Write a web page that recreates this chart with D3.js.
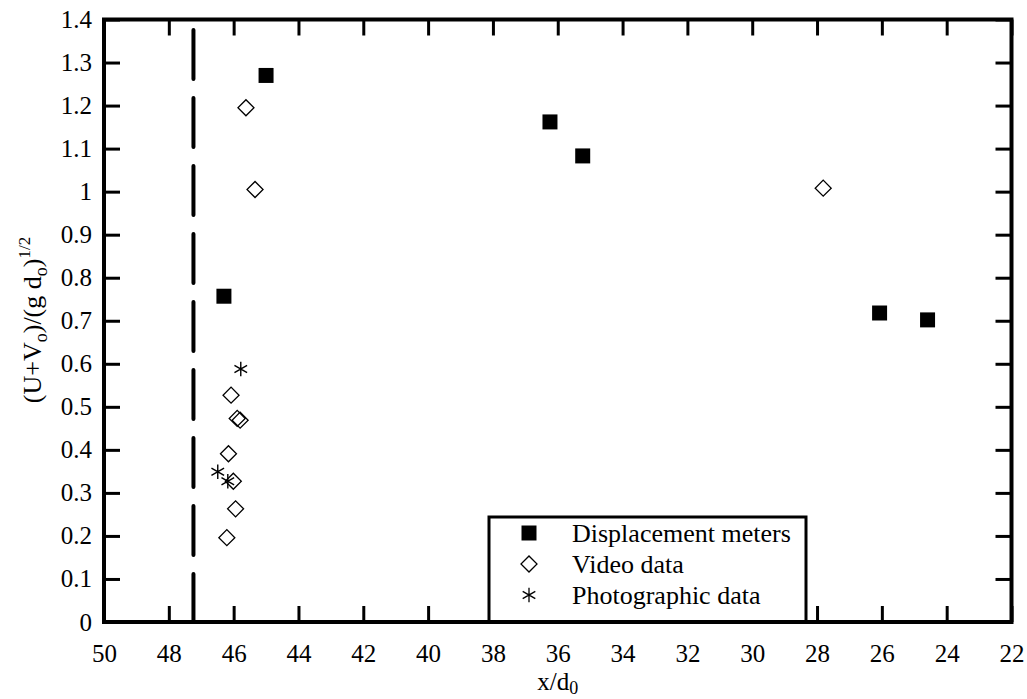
<!DOCTYPE html>
<html lang="en">
<head>
<meta charset="UTF-8">
<script src="https://cdn.jsdelivr.net/npm/d3@7/dist/d3.min.js"></script>
<title>Velocity vs distance</title>
<style>
  body { margin: 0; background: #fff; }
</style>
</head>
<body>
<script>
// data
var displacementX = [45.0, 46.3, 36.24, 35.23, 26.07, 24.59];
var displacementY = [1.27, 0.757, 1.162, 1.083, 0.718, 0.702];

var videoX = [45.62, 45.34, 27.81, 46.08, 45.89, 45.80, 46.16, 46.01, 45.94, 46.21];
var videoY = [1.195, 1.005, 1.008, 0.527, 0.473, 0.469, 0.391, 0.327, 0.263, 0.196];

var photoX = [45.78, 46.49, 46.18];
var photoY = [0.588, 0.349, 0.327];

var cutoffX = 47.24;

var xTicks = [50, 48, 46, 44, 42, 40, 38, 36, 34, 32, 30, 28, 26, 24, 22];
var yTicks = [0, 0.1, 0.2, 0.3, 0.4, 0.5, 0.6, 0.7, 0.8, 0.9, 1, 1.1, 1.2, 1.3, 1.4];
var yTickLabels = ["0", "0.1", "0.2", "0.3", "0.4", "0.5", "0.6", "0.7", "0.8", "0.9", "1", "1.1", "1.2", "1.3", "1.4"];
var legendLabels = ["Displacement meters", "Video data", "Photographic data"];

var serif = "'Liberation Serif', 'Times New Roman', 'DejaVu Serif', serif";
var width = 1027, height = 699;
var plotLeft = 104, plotRight = 1011.5, plotTop = 19.5, plotBottom = 622;

var x = d3.scaleLinear().domain([50, 22]).range([plotLeft, plotRight]);
var y = d3.scaleLinear().domain([0, 1.4]).range([plotBottom, plotTop]);

var svg = d3.select("body").append("svg").attr("width", width).attr("height", height)
  .style("font-family", serif);

// axes with inward ticks
var gb = svg.append("g").attr("transform", "translate(0," + plotBottom + ")")
  .call(d3.axisBottom(x).tickValues(xTicks).tickSizeInner(-16).tickSizeOuter(0).tickPadding(22).tickFormat(function (d) { return d; }));
var gt = svg.append("g").attr("transform", "translate(0," + plotTop + ")")
  .call(d3.axisTop(x).tickValues(xTicks).tickSizeInner(-16).tickSizeOuter(0).tickFormat(""));
var gl = svg.append("g").attr("transform", "translate(" + plotLeft + ",0)")
  .call(d3.axisLeft(y).tickValues(yTicks).tickSizeInner(-16).tickSizeOuter(0).tickPadding(12).tickFormat(function (d, i) { return yTickLabels[i]; }));
var gr = svg.append("g").attr("transform", "translate(" + plotRight + ",0)")
  .call(d3.axisRight(y).tickValues(yTicks).tickSizeInner(-16).tickSizeOuter(0).tickFormat(""));

[gb, gt, gl, gr].forEach(function (g) {
  g.attr("font-family", null).attr("font-size", null);
  g.select(".domain").remove();
  g.selectAll(".tick line").attr("stroke", "#000").attr("stroke-width", 3);
  g.selectAll(".tick text").style("font-family", serif).style("font-size", "25px").attr("fill", "#000");
});

// frame
svg.append("rect").attr("x", plotLeft).attr("y", plotTop).attr("width", plotRight - plotLeft).attr("height", plotBottom - plotTop)
  .attr("fill", "none").attr("stroke", "#000").attr("stroke-width", 4);

// dashed vertical line
svg.append("line")
  .attr("x1", x(cutoffX)).attr("x2", x(cutoffX))
  .attr("y1", y(1.4)).attr("y2", y(0))
  .attr("stroke", "#000").attr("stroke-width", 4)
  .attr("stroke-linecap", "round")
  .attr("stroke-dasharray", "49 19")
  .attr("stroke-dashoffset", 57.5);

// markers
var square = d3.symbol().type(d3.symbolSquare).size(225);
var diamond = d3.symbol().type(d3.symbolSquare).size(128);
var aster = d3.symbol().type(d3.symbolAsterisk).size(150);

var dispData = d3.zip(displacementX, displacementY);
var videoData = d3.zip(videoX, videoY);
var photoData = d3.zip(photoX, photoY);

svg.append("g").selectAll("path").data(dispData).enter().append("path")
  .attr("d", square)
  .attr("transform", function (d) { return "translate(" + x(d[0]) + "," + y(d[1]) + ")"; })
  .attr("fill", "#000");

svg.append("g").selectAll("path").data(videoData).enter().append("path")
  .attr("d", diamond)
  .attr("transform", function (d) { return "translate(" + x(d[0]) + "," + y(d[1]) + ") rotate(45)"; })
  .attr("fill", "none").attr("stroke", "#000").attr("stroke-width", 1.3);

svg.append("g").selectAll("path").data(photoData).enter().append("path")
  .attr("d", aster)
  .attr("transform", function (d) { return "translate(" + x(d[0]) + "," + y(d[1]) + ")"; })
  .attr("fill", "none").attr("stroke", "#000").attr("stroke-width", 1.4);

// legend
var lg = svg.append("g");
lg.append("rect").attr("x", 489).attr("y", 517).attr("width", 806 - 489).attr("height", plotBottom - 517)
  .attr("fill", "#fff").attr("stroke", "#000").attr("stroke-width", 3);
var markers = [
  { sym: square, fill: "#000", stroke: "none", rot: "" },
  { sym: diamond, fill: "none", stroke: "#000", rot: " rotate(45)" },
  { sym: aster, fill: "none", stroke: "#000", rot: "" }
];
legendLabels.forEach(function (label, i) {
  var cy = 533 + i * 31;
  var m = markers[i];
  lg.append("path").attr("d", m.sym)
    .attr("transform", "translate(529," + cy + ")" + m.rot)
    .attr("fill", m.fill).attr("stroke", m.stroke).attr("stroke-width", 1.3);
  lg.append("text").attr("x", 572).attr("y", cy).attr("dy", "0.33em")
    .style("font-family", serif).style("font-size", "26px").text(label);
});
// redraw bottom frame edge over the legend box
svg.append("line").attr("x1", plotLeft).attr("x2", plotRight).attr("y1", plotBottom).attr("y2", plotBottom)
  .attr("stroke", "#000").attr("stroke-width", 4);

// axis titles
var xt = svg.append("text").attr("x", (plotLeft + plotRight) / 2).attr("y", 690)
  .attr("text-anchor", "middle").style("font-family", serif).style("font-size", "25px");
xt.append("tspan").text("x/d");
xt.append("tspan").attr("dy", 4).style("font-size", "18px").text("0");

var yt = svg.append("text").attr("transform", "translate(41,320) rotate(-90)")
  .attr("text-anchor", "middle").style("font-family", serif).style("font-size", "26px");
yt.append("tspan").text("(U+V");
yt.append("tspan").attr("dy", 6).style("font-size", "18px").text("o");
yt.append("tspan").attr("dy", -6).text(")/(g d");
yt.append("tspan").attr("dy", 6).style("font-size", "18px").text("o");
yt.append("tspan").attr("dy", -6).text(")");
yt.append("tspan").attr("dy", -11).style("font-size", "17px").text("1/2");
</script>
</body>
</html>
